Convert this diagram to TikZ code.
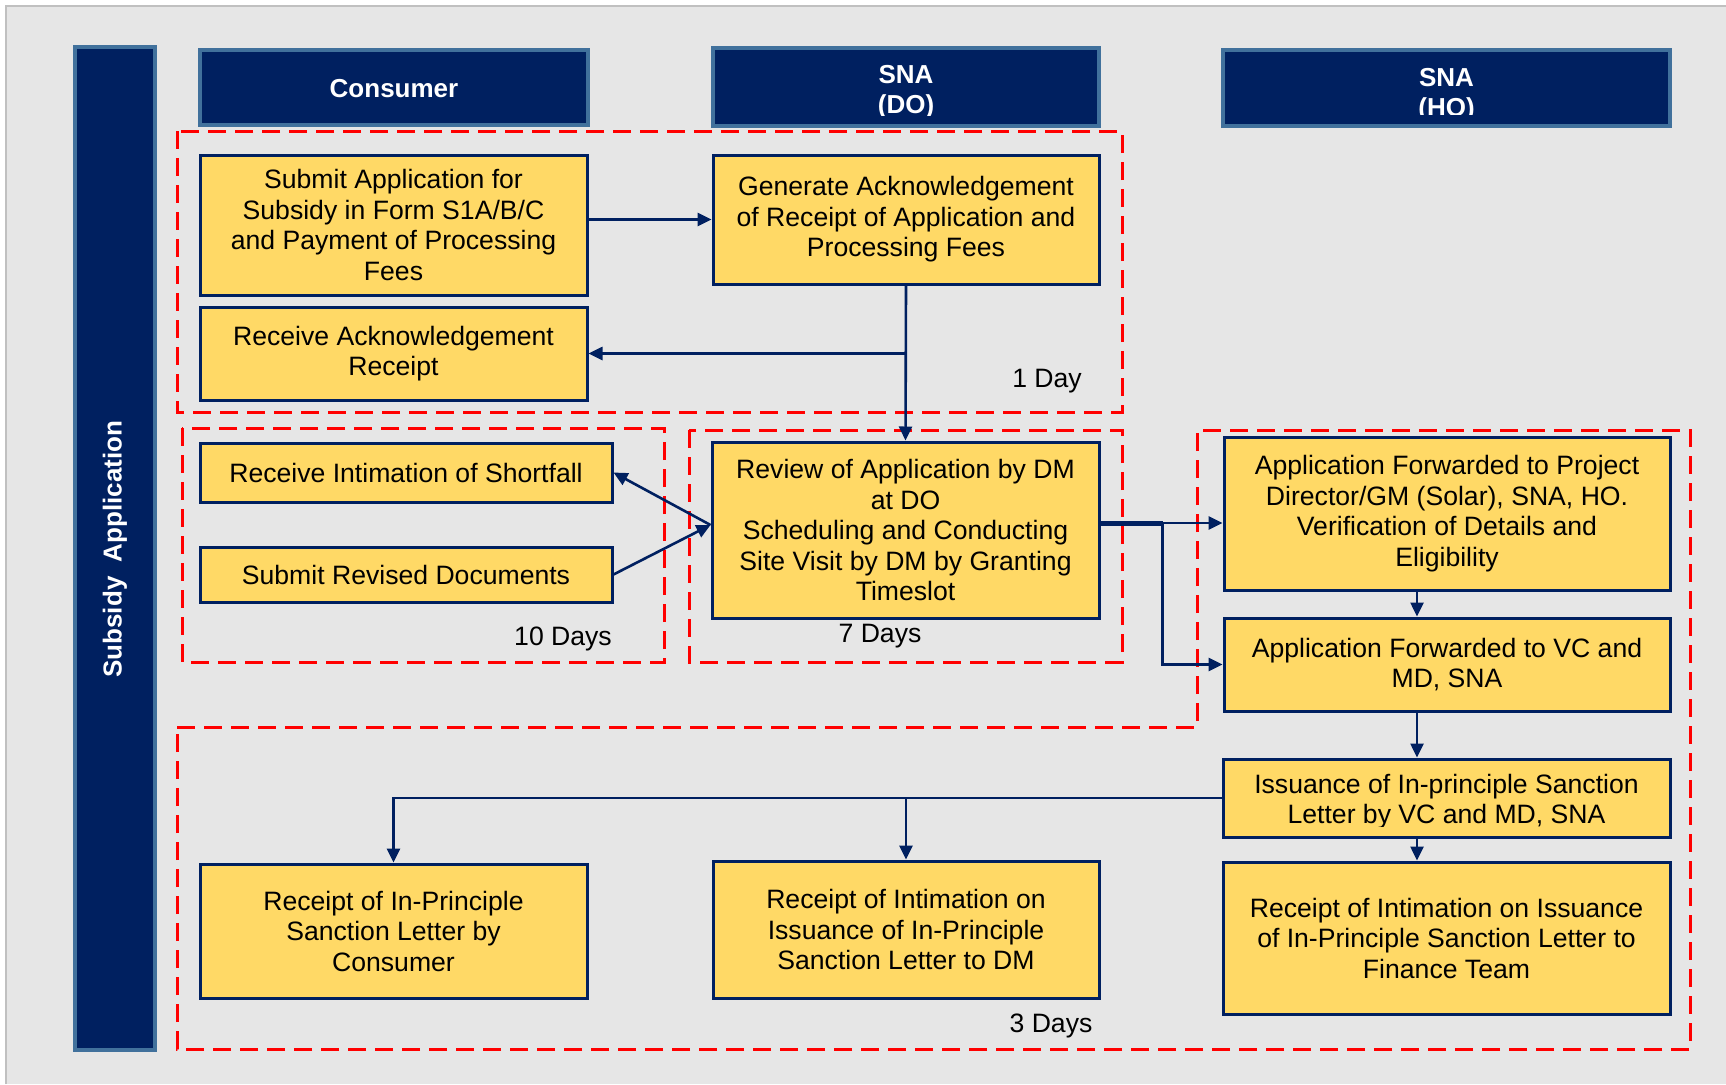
\documentclass[tikz,border=0pt]{standalone}
\usepackage{fontspec}
\setmainfont{Liberation Sans}
\usetikzlibrary{arrows.meta}

\definecolor{navy}{RGB}{0,32,96}
\definecolor{laneedge}{RGB}{65,113,156}
\definecolor{stepfill}{RGB}{255,217,102}
\definecolor{slared}{RGB}{255,0,0}
\definecolor{pagegray}{RGB}{230,230,230}
\definecolor{rimgray}{RGB}{192,192,192}

\begin{document}
\begin{tikzpicture}[x=1pt,y=-1pt,
  stepbox/.style={draw=navy, line width=3pt, fill=stepfill, inner sep=0pt,
    align=center, font=\fontsize{26.6}{30.5}\selectfont},
  steptext/.style={inner sep=0pt, align=center, font=\fontsize{26.6}{30.5}\selectfont},
  lanehead/.style={draw=laneedge, line width=3.5pt, fill=navy, inner sep=0pt},
  headtext/.style={text=white, align=center, inner sep=0pt,
    font=\fontsize{26}{30}\selectfont\bfseries},
  slabox/.style={draw=slared, line width=3pt, dash pattern=on 18pt off 9pt},
  slalabel/.style={inner sep=0pt, font=\fontsize{26.6}{30.5}\selectfont},
  flow/.style={draw=navy, line width=2.6pt, -{Triangle[length=14pt,width=13pt]}},
  link/.style={draw=navy, line width=2.6pt}
]
% page and grey canvas
\useasboundingbox (0,0) rectangle (1726,1084);
\fill[white] (0,0) rectangle (1726,1084);
\fill[pagegray] (6,6) rectangle (1726,1084);
\draw[rimgray, line width=1.5pt] (6,1084) -- (6,6) -- (1726,6);

% time-limit regions
\draw[slabox] (177,131) rectangle (1122,412);
\draw[slabox] (182,428) rectangle (664,662);
\draw[slabox] (689,430) rectangle (1122,662);
\draw[slabox] (177,727) -- (1197,727) -- (1197,430) -- (1690,430)
  -- (1690,1049) -- (177,1049) -- cycle;
\node[slalabel] (d1) at (1047,381) {1 Day};
\node[slalabel] (d10) at (563,639) {10 Days};
\node[slalabel] (d7) at (880,636) {7 Days};
\node[slalabel] (d3) at (1051,1026) {3 Days};

% swimlane bar and lane headers
\node[lanehead, minimum width=80pt, minimum height=1003pt] (lane) at (115,548.5) {};
\node[headtext, rotate=90] (laneT) at (115,549) {Subsidy\ \ Application};

\node[lanehead, minimum width=388pt, minimum height=75pt] (hC) at (394,87.5) {};
\node[headtext] (hCt) at (394,89) {Consumer};

\node[lanehead, minimum width=386pt, minimum height=78pt] (hD) at (906,87) {};
\begin{scope}
  \clip (713,50) rectangle (1099,115);
  \node[headtext] (hDt) at (906,92.5) {SNA\\(DO)};
\end{scope}

\node[lanehead, minimum width=447pt, minimum height=76pt] (hH) at (1446.5,88) {};
\begin{scope}
  \clip (1223,52) rectangle (1670,114);
  \node[headtext] (hHt) at (1446.5,95.5) {SNA\\(HO)};
\end{scope}

% process steps
\node[stepbox, minimum width=387pt, minimum height=140pt] (A) at (393.5,225)
  {Submit Application for\\Subsidy in Form S1A/B/C\\and Payment of Processing\\Fees};
\node[stepbox, minimum width=387pt, minimum height=93pt] (B) at (393.5,353.5)
  {Receive Acknowledgement\\Receipt};
\node[stepbox, minimum width=386pt, minimum height=129pt] (C) at (906,219.5)
  {Generate Acknowledgement\\of Receipt of Application and\\Processing Fees};
\node[stepbox, minimum width=412pt, minimum height=59pt] (D) at (406,472.5)
  {Receive Intimation of Shortfall};
\node[stepbox, minimum width=412pt, minimum height=55pt] (E) at (406,574.5)
  {Submit Revised Documents};
\node[stepbox, minimum width=387pt, minimum height=176pt] (F) at (905.5,530)
  {Review of Application by DM\\at DO\\Scheduling and Conducting\\Site Visit by DM by Granting\\Timeslot};
\node[stepbox, minimum width=446pt, minimum height=153pt] (G) at (1447,513.5)
  {Application Forwarded to Project\\Director/GM (Solar), SNA, HO.\\Verification of Details and\\Eligibility};
\node[stepbox, minimum width=446pt, minimum height=93pt] (H) at (1447,664.5)
  {Application Forwarded to VC and\\MD, SNA};
\node[stepbox, minimum width=447pt, minimum height=78pt] (I) at (1446.5,798) {};
\begin{scope}
  \clip (1223,761) rectangle (1670,826);
  \node[steptext] (It) at (1446.5,801.5)
    {Issuance of In-principle Sanction\\Letter by VC and MD, SNA};
\end{scope}
\node[stepbox, minimum width=447pt, minimum height=152pt] (J) at (1446.5,938)
  {Receipt of Intimation on Issuance\\of In-Principle Sanction Letter to\\Finance Team};
\node[stepbox, minimum width=386pt, minimum height=137pt] (K) at (906,929.5)
  {Receipt of Intimation on\\Issuance of In-Principle\\Sanction Letter to DM};
\node[stepbox, minimum width=387pt, minimum height=134pt] (L) at (393.5,931)
  {Receipt of In-Principle\\Sanction Letter by\\Consumer};

% connectors
\draw[flow] (C.west -| A.east) -- (C.west);
\draw[flow] (C.south) -- (F.north);
\draw[flow] (C.south |- B.east) -- (B.east);

\coordinate (fin) at ([yshift=5pt]F.west);
\draw[flow] (fin) -- (D.east);
\draw[flow] (E.east) -- (fin);

\coordinate (fout) at ([yshift=7pt]F.east);
\coordinate (fork) at ([xshift=62pt]fout);
\draw[link, line width=5pt] (fout) -- (fork);
\draw[flow] (fout) -- (fout -| G.west);
\draw[flow] (fork) |- (H.west);

\coordinate (spine) at (1417,0);
\draw[flow] (G.south -| spine) -- (H.north -| spine);
\draw[flow] (H.south -| spine) -- (I.north -| spine);
\draw[flow] (I.south -| spine) -- (J.north -| spine);

\draw[flow] (I.west) -| (L.north);
\draw[flow] (K.north |- I.west) -- (K.north);
\end{tikzpicture}
\end{document}
